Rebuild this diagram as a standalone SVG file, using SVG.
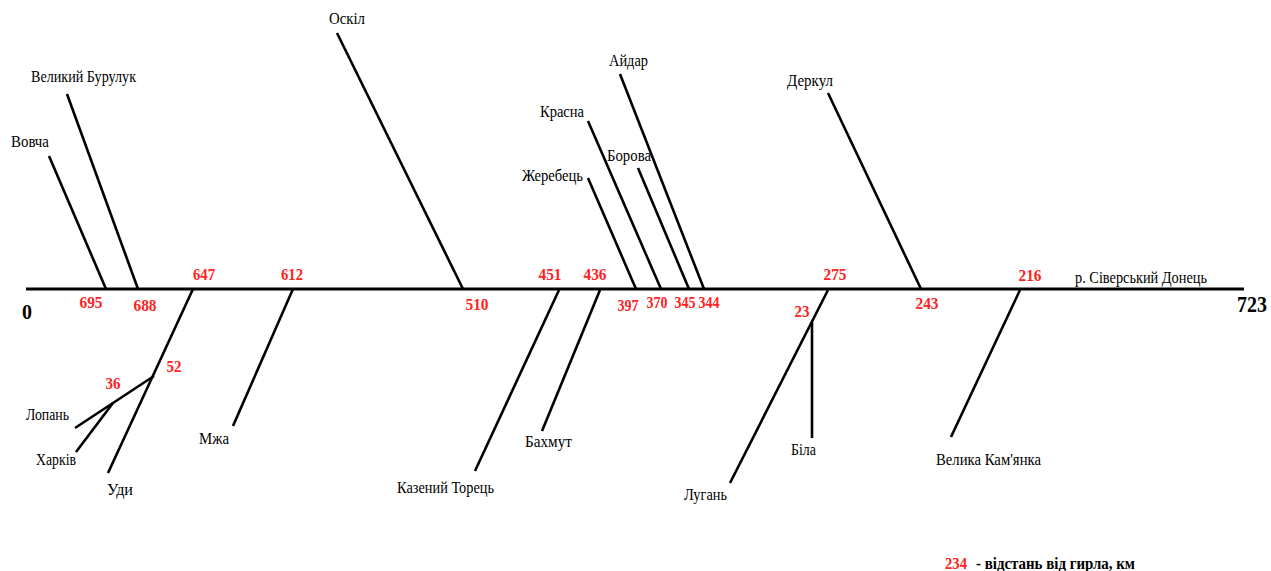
<svg xmlns="http://www.w3.org/2000/svg" width="1271" height="571" viewBox="0 0 1271 571">
<style>
.lbl{font-family:"Liberation Serif","Times New Roman",serif;font-size:17px;fill:#000}
.num{font-family:"Liberation Serif","Times New Roman",serif;font-size:17px;font-weight:bold;fill:#f22;text-anchor:middle}
.big{font-family:"Liberation Serif","Times New Roman",serif;font-weight:bold;fill:#000}
.leg{font-family:"Liberation Serif","Times New Roman",serif;font-size:17px;font-weight:bold}
.riv{stroke:#000;stroke-width:2.6;fill:none}
.main{stroke:#000;stroke-width:3.2;fill:none}
</style>
<rect width="1271" height="571" fill="#fff"/>
<g id="connectors">
<path class="main" d="M26 289H1244"/>
<path class="riv" d="M49 156L106 289"/>
<path class="riv" d="M67 94L138 289"/>
<path class="riv" d="M193 289L108 473"/>
<path class="riv" d="M154 376L75 428"/>
<path class="riv" d="M113 403L76 452"/>
<path class="riv" d="M293 289L233 426"/>
<path class="riv" d="M337 33L463 289"/>
<path class="riv" d="M559 290L475 471"/>
<path class="riv" d="M600 290L542 431"/>
<path class="riv" d="M588 178L636 289"/>
<path class="riv" d="M588 121L661 289"/>
<path class="riv" d="M638 168L689 289"/>
<path class="riv" d="M620 74L704 289"/>
<path class="riv" d="M828 290L730 483"/>
<path class="riv" d="M812 322V438"/>
<path class="riv" d="M828 93L921 289"/>
<path class="riv" d="M1020 290L951 437"/>
</g>
<g id="river-main">
<text class="lbl" x="1075" y="283" textLength="132" lengthAdjust="spacingAndGlyphs">р. Сіверський Донець</text>
<text class="big" x="22" y="319" font-size="21" textLength="10" lengthAdjust="spacingAndGlyphs">0</text>
<text class="big" x="1237" y="312" font-size="24" textLength="30" lengthAdjust="spacingAndGlyphs">723</text>
</g>
<g id="vovcha"><text class="lbl" x="11" y="147" textLength="38" lengthAdjust="spacingAndGlyphs">Вовча</text><text class="num" x="91" y="308" textLength="23" lengthAdjust="spacingAndGlyphs">695</text></g>
<g id="burluk"><text class="lbl" x="31" y="82" textLength="105" lengthAdjust="spacingAndGlyphs">Великий Бурулук</text><text class="num" x="145" y="311" textLength="23" lengthAdjust="spacingAndGlyphs">688</text></g>
<g id="udy"><text class="lbl" x="107" y="495" textLength="26" lengthAdjust="spacingAndGlyphs">Уди</text><text class="num" x="204" y="280" textLength="22" lengthAdjust="spacingAndGlyphs">647</text></g>
<g id="lopan"><text class="lbl" x="26" y="420" textLength="43" lengthAdjust="spacingAndGlyphs">Лопань</text><text class="num" x="174" y="372" textLength="15" lengthAdjust="spacingAndGlyphs">52</text></g>
<g id="kharkiv"><text class="lbl" x="36" y="465" textLength="40" lengthAdjust="spacingAndGlyphs">Харків</text><text class="num" x="113" y="389" textLength="15" lengthAdjust="spacingAndGlyphs">36</text></g>
<g id="mzha"><text class="lbl" x="199" y="444" textLength="30" lengthAdjust="spacingAndGlyphs">Мжа</text><text class="num" x="292" y="280" textLength="22" lengthAdjust="spacingAndGlyphs">612</text></g>
<g id="oskil"><text class="lbl" x="329" y="24" textLength="36" lengthAdjust="spacingAndGlyphs">Оскіл</text><text class="num" x="477" y="310" textLength="23" lengthAdjust="spacingAndGlyphs">510</text></g>
<g id="torets"><text class="lbl" x="397" y="493" textLength="97" lengthAdjust="spacingAndGlyphs">Казений Торець</text><text class="num" x="550" y="280" textLength="23" lengthAdjust="spacingAndGlyphs">451</text></g>
<g id="bakhmut"><text class="lbl" x="525" y="447" textLength="47" lengthAdjust="spacingAndGlyphs">Бахмут</text><text class="num" x="595" y="280" textLength="23" lengthAdjust="spacingAndGlyphs">436</text></g>
<g id="zherebets"><text class="lbl" x="522" y="181" textLength="61" lengthAdjust="spacingAndGlyphs">Жеребець</text><text class="num" x="628" y="311" textLength="21" lengthAdjust="spacingAndGlyphs">397</text></g>
<g id="krasna"><text class="lbl" x="540" y="117" textLength="44" lengthAdjust="spacingAndGlyphs">Красна</text><text class="num" x="657" y="308" textLength="21" lengthAdjust="spacingAndGlyphs">370</text></g>
<g id="borova"><text class="lbl" x="607" y="161" textLength="44" lengthAdjust="spacingAndGlyphs">Борова</text><text class="num" x="685" y="308" textLength="21" lengthAdjust="spacingAndGlyphs">345</text></g>
<g id="aidar"><text class="lbl" x="609" y="66" textLength="39" lengthAdjust="spacingAndGlyphs">Айдар</text><text class="num" x="709" y="308" textLength="21" lengthAdjust="spacingAndGlyphs">344</text></g>
<g id="luhan"><text class="lbl" x="684" y="500" textLength="43" lengthAdjust="spacingAndGlyphs">Лугань</text><text class="num" x="835" y="280" textLength="23" lengthAdjust="spacingAndGlyphs">275</text></g>
<g id="bila"><text class="lbl" x="791" y="455" textLength="25" lengthAdjust="spacingAndGlyphs">Біла</text><text class="num" x="802" y="317" textLength="15" lengthAdjust="spacingAndGlyphs">23</text></g>
<g id="derkul"><text class="lbl" x="787" y="86" textLength="46" lengthAdjust="spacingAndGlyphs">Деркул</text><text class="num" x="927" y="309" textLength="23" lengthAdjust="spacingAndGlyphs">243</text></g>
<g id="kamianka"><text class="lbl" x="936" y="465" textLength="105" lengthAdjust="spacingAndGlyphs">Велика Кам'янка</text><text class="num" x="1030" y="281" textLength="23" lengthAdjust="spacingAndGlyphs">216</text></g>
<g id="legend">
<text class="leg" x="945" y="569" fill="#f22" textLength="22" lengthAdjust="spacingAndGlyphs">234</text>
<text class="leg" x="976" y="569" fill="#000" textLength="159" lengthAdjust="spacingAndGlyphs">- відстань від гирла, км</text>
</g>
</svg>
